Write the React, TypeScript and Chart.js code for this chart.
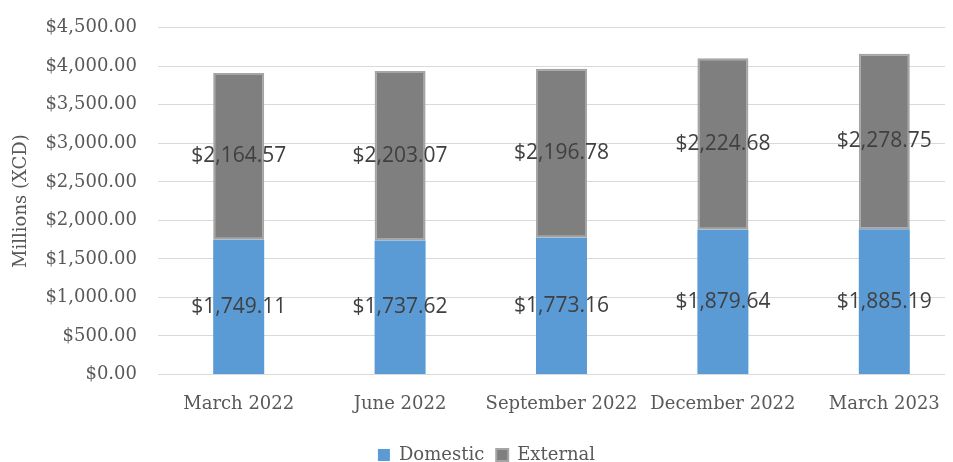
import React, { useEffect, useRef } from "react";
import { Chart, registerables } from "chart.js";

Chart.register(...registerables);

const categories = ["March 2022", "June 2022", "September 2022", "December 2022", "March 2023"];
const domestic = [1749.11, 1737.62, 1773.16, 1879.64, 1885.19];
const external = [2164.57, 2203.07, 2196.78, 2224.68, 2278.75];
const yMax = 4500;
const yStep = 500;

const money = (v: number) =>
  "$" + v.toLocaleString("en-US", { minimumFractionDigits: 2, maximumFractionDigits: 2 });

const serif = "'DejaVu Serif', serif";

const labelPlugin = {
  id: "segLabels",
  afterDatasetsDraw(chart: any) {
    const ctx = chart.ctx;
    ctx.save();
    ctx.font = "21px 'Open Sans', sans-serif";
    ctx.fillStyle = "#404040";
    ctx.textAlign = "center";
    ctx.textBaseline = "middle";
    chart.data.datasets.forEach((ds: any, di: number) => {
      const meta = chart.getDatasetMeta(di);
      meta.data.forEach((bar: any, i: number) => {
        const y = (bar.y + bar.base) / 2;
        ctx.fillText(money(ds.data[i]), bar.x, y);
      });
    });
    ctx.restore();
  },
};

export default function App() {
  const ref = useRef<HTMLCanvasElement>(null);
  useEffect(() => {
    if (!ref.current) return;
    const chart = new Chart(ref.current, {
      type: "bar",
      data: {
        labels: categories,
        datasets: [
          {
            label: "Domestic",
            data: domestic,
            backgroundColor: "#5b9bd5",
            borderColor: "#5b9bd5",
            borderWidth: 0,
            categoryPercentage: 1,
            barPercentage: 0.316,
          },
          {
            label: "External",
            data: external,
            backgroundColor: "#7f7f7f",
            borderColor: "#a5a5a5",
            borderWidth: 2,
            borderSkipped: false,
            categoryPercentage: 1,
            barPercentage: 0.316,
          },
        ],
      },
      options: {
        animation: false,
        responsive: false,
        maintainAspectRatio: false,
        layout: { padding: { left: 0, right: 0, top: 0, bottom: 0 } },
        plugins: {
          legend: {
            position: "bottom",
            labels: {
              font: { family: serif, size: 18 },
              color: "#595959",
              usePointStyle: true,
              pointStyle: "rect",
              boxWidth: 12,
              boxHeight: 12,
              padding: 12,
            },
          },
          tooltip: { enabled: false },
        },
        scales: {
          x: {
            stacked: true,
            grid: { display: false, drawTicks: false },
            border: { color: "#d9d9d9", width: 1 },
            ticks: { font: { family: serif, size: 18 }, color: "#595959", padding: 19, maxRotation: 0, autoSkip: false },
          },
          y: {
            stacked: true,
            min: 0,
            max: yMax,
            grid: { color: "#d9d9d9", lineWidth: 1, drawTicks: false },
            border: { display: false },
            afterFit: (scale: any) => {
              scale.width = 150;
            },
            ticks: {
              stepSize: yStep,
              font: { family: serif, size: 18 },
              color: "#595959",
              padding: 21,
              callback: (v: any) => money(Number(v)),
            },
            title: {
              display: true,
              text: "Millions (XCD)",
              font: { family: serif, size: 18 },
              color: "#595959",
              padding: { top: 3, bottom: 0 },
            },
          },
        },
      },
      plugins: [labelPlugin],
    });
    return () => chart.destroy();
  }, []);
  return (
    <div style={{ width: 945, height: 454, overflow: "hidden" }}>
      <canvas ref={ref} width={957} height={478} style={{ display: "block", marginTop: -12 }} />
    </div>
  );
}
